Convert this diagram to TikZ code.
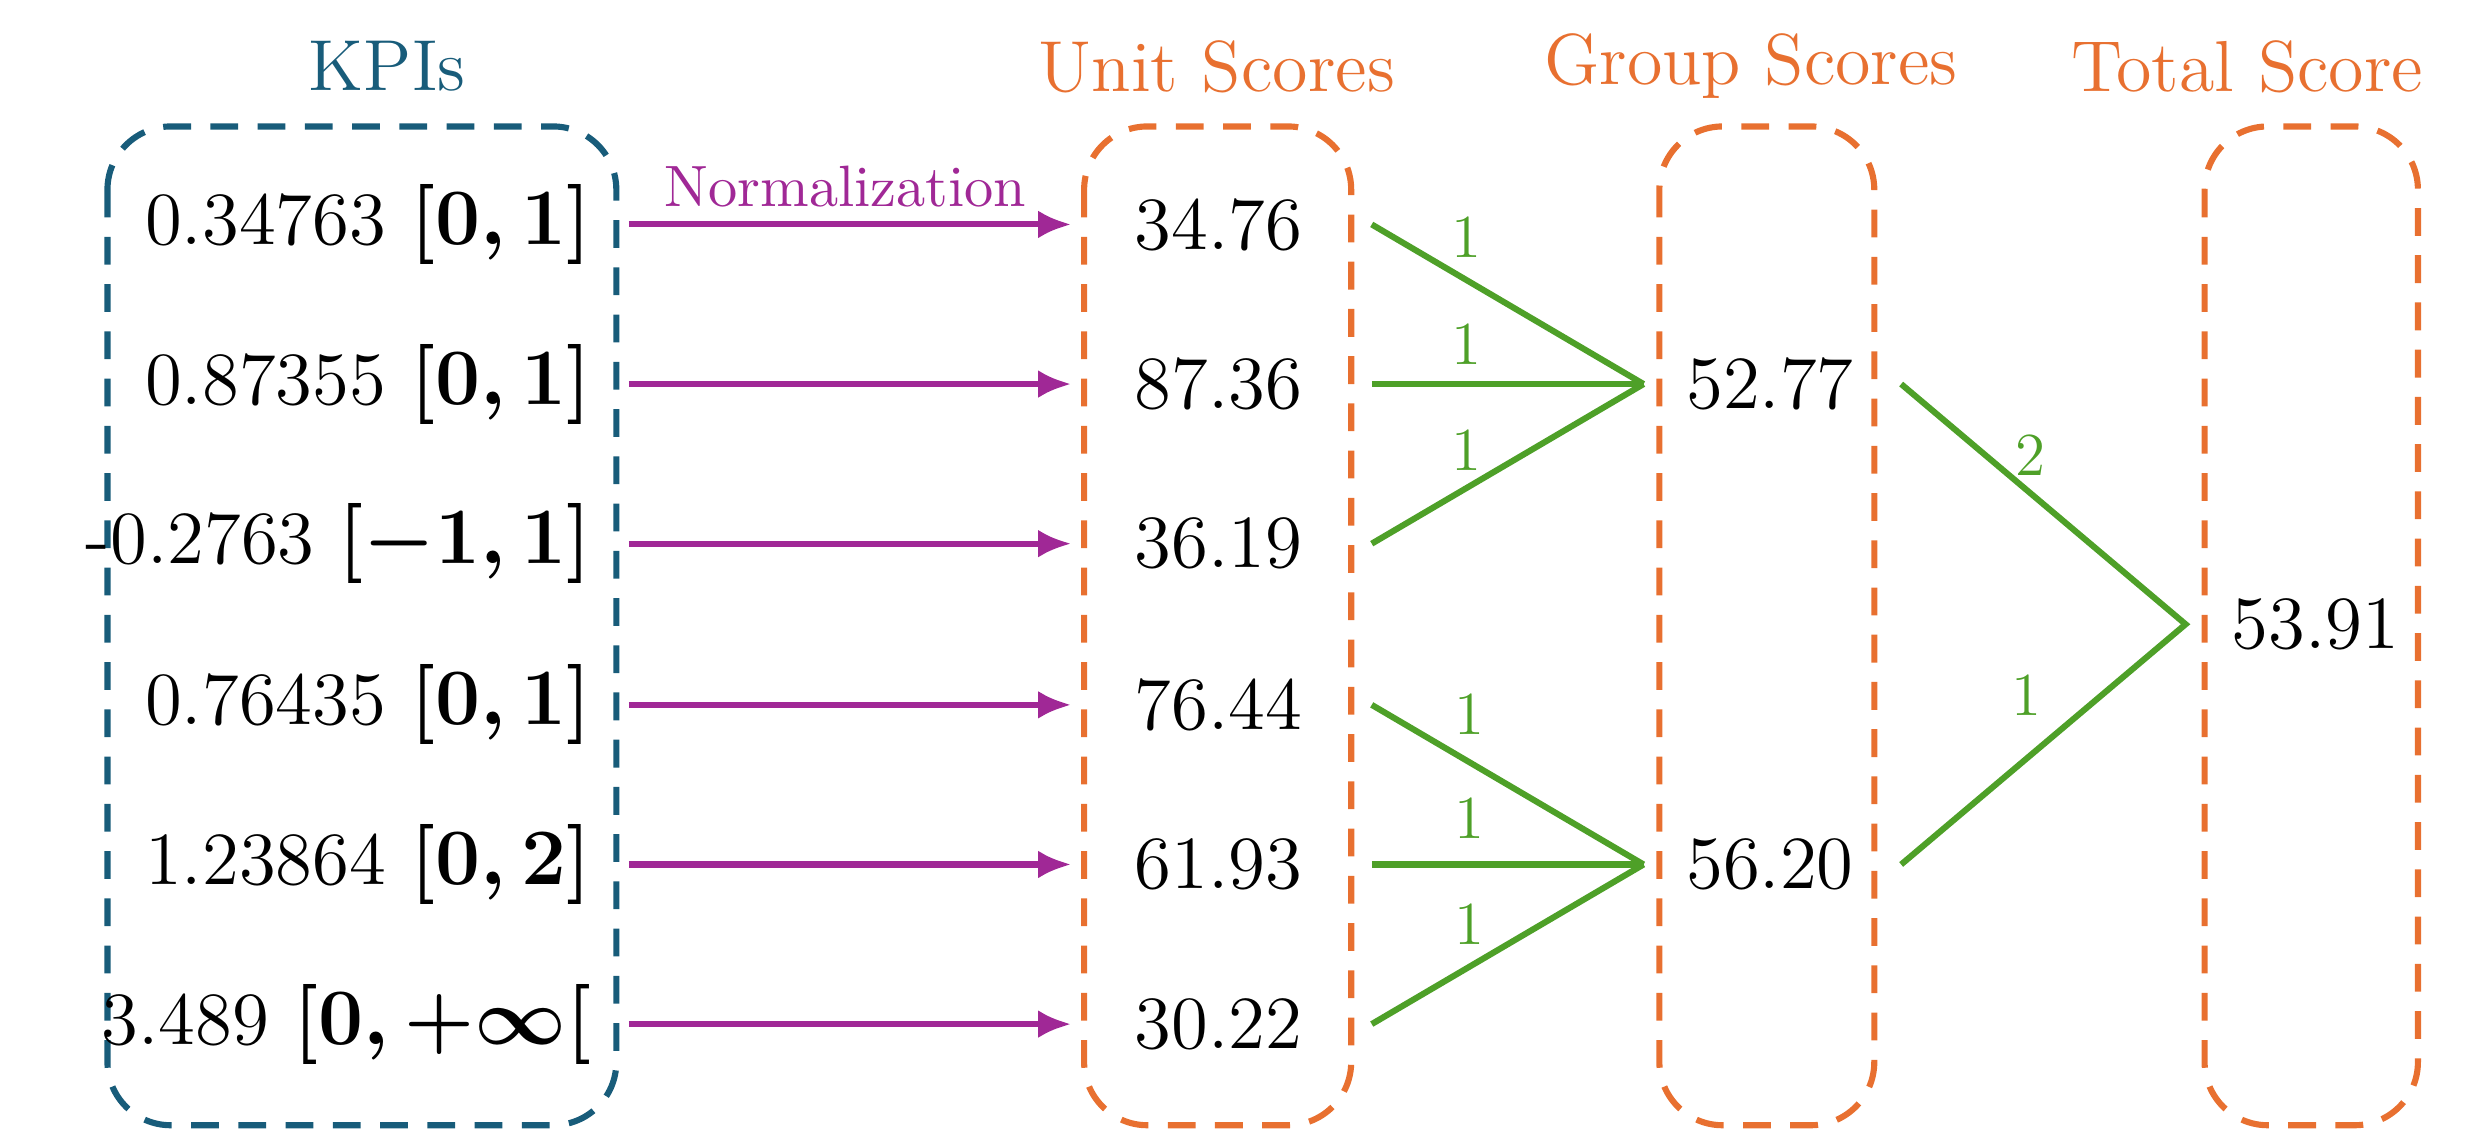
\documentclass[tikz,border=0pt]{standalone}
\usetikzlibrary{arrows.meta}
\definecolor{kpiblue}{RGB}{24,92,122}
\definecolor{scorange}{RGB}{232,112,48}
\definecolor{npurple}{RGB}{160,40,150}
\definecolor{wgreen}{RGB}{78,160,40}
\newcommand{\bm}[1]{{\boldmath$#1$}}
\begin{document}
\begin{tikzpicture}[x=0.01cm,y=-0.01cm,
  box/.style={draw,dashed,line width=1.1pt,rounded corners=0.4cm,dash pattern=on 5pt off 3.5pt},
  val/.style={font=\fontsize{13.5}{15}\selectfont,inner sep=0pt},
  ttl/.style={font=\fontsize{13}{15}\selectfont,inner sep=0pt},
  narrow/.style={draw=npurple,line width=1.1pt,-{Latex[length=6pt,width=5pt]}},
  gline/.style={draw=wgreen,line width=1.1pt},
  wlab/.style={text=wgreen,font=\fontsize{11}{13}\selectfont,inner sep=0pt}]
\useasboundingbox (0,0) rectangle (1568,714);
\draw[box,kpiblue] (68,80) rectangle (390,712);
\draw[box,scorange] (686,80) rectangle (855,712);
\draw[box,scorange] (1050,80) rectangle (1186,712);
\draw[box,scorange] (1395,80) rectangle (1530,712);
\node[ttl,text=kpiblue] (tk) at (245,42) {KPIs};
\node[ttl,text=scorange] (tu) at (770,42) {Unit Scores};
\node[ttl,text=scorange] (tg) at (1108,42) {Group Scores};
\node[ttl,text=scorange] (tt) at (1422,42) {Total Score};
\node[text=npurple,font=\fontsize{10.5}{12}\selectfont,inner sep=0pt] (nl) at (535,118) {Normalization};
\foreach \i/\y/\k/\u in {1/142/{0.34763 \bm{[0,1]}}/34.76, 2/243/{0.87355 \bm{[0,1]}}/87.36, 3/344/{-0.2763 \bm{[-1,1]}}/36.19, 4/446/{0.76435 \bm{[0,1]}}/76.44, 5/547/{1.23864 \bm{[0,2]}}/61.93, 6/648/{3.489 \bm{[0,+\infty[}}/30.22}{
  \node[val,anchor=east] (k\i) at (375,\y) {\k};
  \node[val] (u\i) at (771,\y) {\u};
  \coordinate (a\i) at (398,\y);
  \coordinate (b\i) at (678,\y);
  \coordinate (c\i) at (868,\y);
  \draw[narrow] (a\i) -- (b\i);
}
\node[val] (g1) at (1120,243) {52.77};
\node[val] (g2) at (1120,547) {56.20};
\node[val] (t1) at (1465,395) {53.91};
\coordinate (gi1) at (1040,243);
\coordinate (gi2) at (1040,547);
\coordinate (go1) at (1203,243);
\coordinate (go2) at (1203,547);
\coordinate (ti) at (1383,395);
\foreach \i in {1,2,3} \draw[gline] (c\i) -- (gi1);
\foreach \i in {4,5,6} \draw[gline] (c\i) -- (gi2);
\draw[gline] (go1) -- (ti) -- (go2);
\node[wlab] (w1) at (928,150) {1};
\node[wlab] (w2) at (928,218) {1};
\node[wlab] (w3) at (928,285) {1};
\node[wlab] (w4) at (930,452) {1};
\node[wlab] (w5) at (930,518) {1};
\node[wlab] (w6) at (930,585) {1};
\node[wlab] (w7) at (1285,288) {2};
\node[wlab] (w8) at (1282,440) {1};
\end{tikzpicture}
\end{document}
